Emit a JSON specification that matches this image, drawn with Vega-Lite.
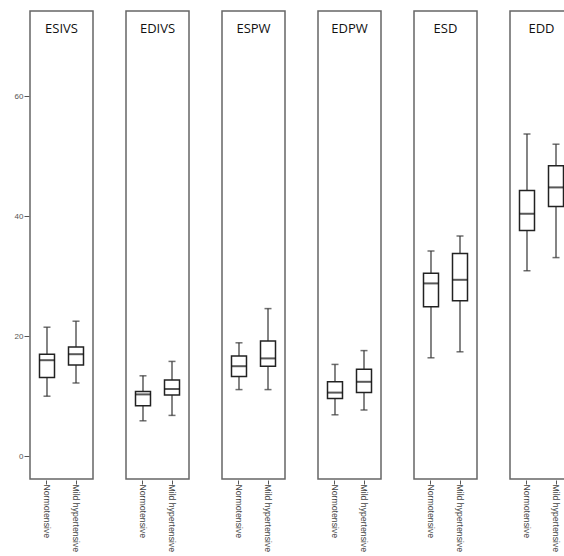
{
  "$schema": "https://vega.github.io/schema/vega-lite/v6.json",
  "padding": {"left": 14, "top": 10, "right": 0, "bottom": 0},
  "background": "white",
  "data": {"values": [
    {"var": "ESIVS", "group": "Normotensive", "low": 10.0, "q1": 13.1, "median": 16.0, "q3": 17.0, "high": 21.5},
    {"var": "ESIVS", "group": "Mild hypertensive", "low": 12.2, "q1": 15.2, "median": 17.0, "q3": 18.2, "high": 22.5},
    {"var": "EDIVS", "group": "Normotensive", "low": 5.9, "q1": 8.4, "median": 10.3, "q3": 10.8, "high": 13.4},
    {"var": "EDIVS", "group": "Mild hypertensive", "low": 6.8, "q1": 10.2, "median": 11.2, "q3": 12.7, "high": 15.8},
    {"var": "ESPW", "group": "Normotensive", "low": 11.1, "q1": 13.3, "median": 15.0, "q3": 16.7, "high": 18.9},
    {"var": "ESPW", "group": "Mild hypertensive", "low": 11.1, "q1": 15.0, "median": 16.3, "q3": 19.2, "high": 24.6},
    {"var": "EDPW", "group": "Normotensive", "low": 6.9, "q1": 9.6, "median": 10.6, "q3": 12.4, "high": 15.3},
    {"var": "EDPW", "group": "Mild hypertensive", "low": 7.7, "q1": 10.6, "median": 12.4, "q3": 14.5, "high": 17.6},
    {"var": "ESD", "group": "Normotensive", "low": 16.4, "q1": 24.9, "median": 28.8, "q3": 30.5, "high": 34.2},
    {"var": "ESD", "group": "Mild hypertensive", "low": 17.4, "q1": 25.9, "median": 29.4, "q3": 33.8, "high": 36.7},
    {"var": "EDD", "group": "Normotensive", "low": 30.9, "q1": 37.6, "median": 40.4, "q3": 44.3, "high": 53.7},
    {"var": "EDD", "group": "Mild hypertensive", "low": 33.1, "q1": 41.6, "median": 44.8, "q3": 48.4, "high": 52.0}
  ]},
  "facet": {
    "column": {
      "field": "var",
      "type": "nominal",
      "sort": ["ESIVS", "EDIVS", "ESPW", "EDPW", "ESD", "EDD"],
      "title": null,
      "header": {
        "labelOrient": "top",
        "labelFontSize": 13,
        "labelFont": "Open Sans",
        "labelColor": "#111",
        "labelPadding": -26,
        "labelBaseline": "top"
      }
    }
  },
  "spacing": 31,
  "resolve": {"scale": {"x": "shared"}},
  "spec": {
    "width": 63,
    "height": 468,
    "encoding": {
      "x": {
        "field": "group",
        "type": "nominal",
        "sort": ["Normotensive", "Mild hypertensive"],
        "scale": {"paddingInner": 0, "paddingOuter": 0.086},
        "axis": {
          "title": null,
          "labelAngle": 90,
          "labelAlign": "left",
          "labelBaseline": "middle",
          "labelFontSize": 8.7,
          "labelFont": "Liberation Sans",
          "labelColor": "#444",
          "labelPadding": 0,
          "tickSize": 4,
          "tickColor": "#555",
          "domain": false
        }
      }
    },
    "layer": [
      {
        "mark": {"type": "rule", "color": "#333", "strokeWidth": 1.2},
        "encoding": {
          "y": {
            "field": "low",
            "type": "quantitative",
            "scale": {"domain": [-3.8, 74.2], "nice": false, "zero": false},
            "axis": {
              "title": null,
              "values": [0, 20, 40, 60],
              "grid": false,
              "domain": false,
              "tickSize": 5,
              "tickColor": "#555",
              "labelFontSize": 8,
              "labelFont": "Liberation Sans",
              "labelColor": "#555",
              "labelPadding": 1
            }
          },
          "y2": {"field": "high"}
        }
      },
      {
        "mark": {"type": "bar", "size": 15, "fill": "white", "stroke": "#222", "strokeWidth": 1.5},
        "encoding": {
          "y": {"field": "q1", "type": "quantitative"},
          "y2": {"field": "q3"}
        }
      },
      {
        "mark": {"type": "tick", "size": 15, "thickness": 2, "color": "#111"},
        "encoding": {"y": {"field": "median", "type": "quantitative"}}
      },
      {
        "mark": {"type": "tick", "size": 7, "thickness": 1.5, "color": "#333"},
        "encoding": {"y": {"field": "low", "type": "quantitative"}}
      },
      {
        "mark": {"type": "tick", "size": 7, "thickness": 1.5, "color": "#333"},
        "encoding": {"y": {"field": "high", "type": "quantitative"}}
      }
    ]
  },
  "config": {
    "view": {"stroke": "#666", "strokeWidth": 1.5},
    "tick": {"orient": "horizontal"}
  }
}
